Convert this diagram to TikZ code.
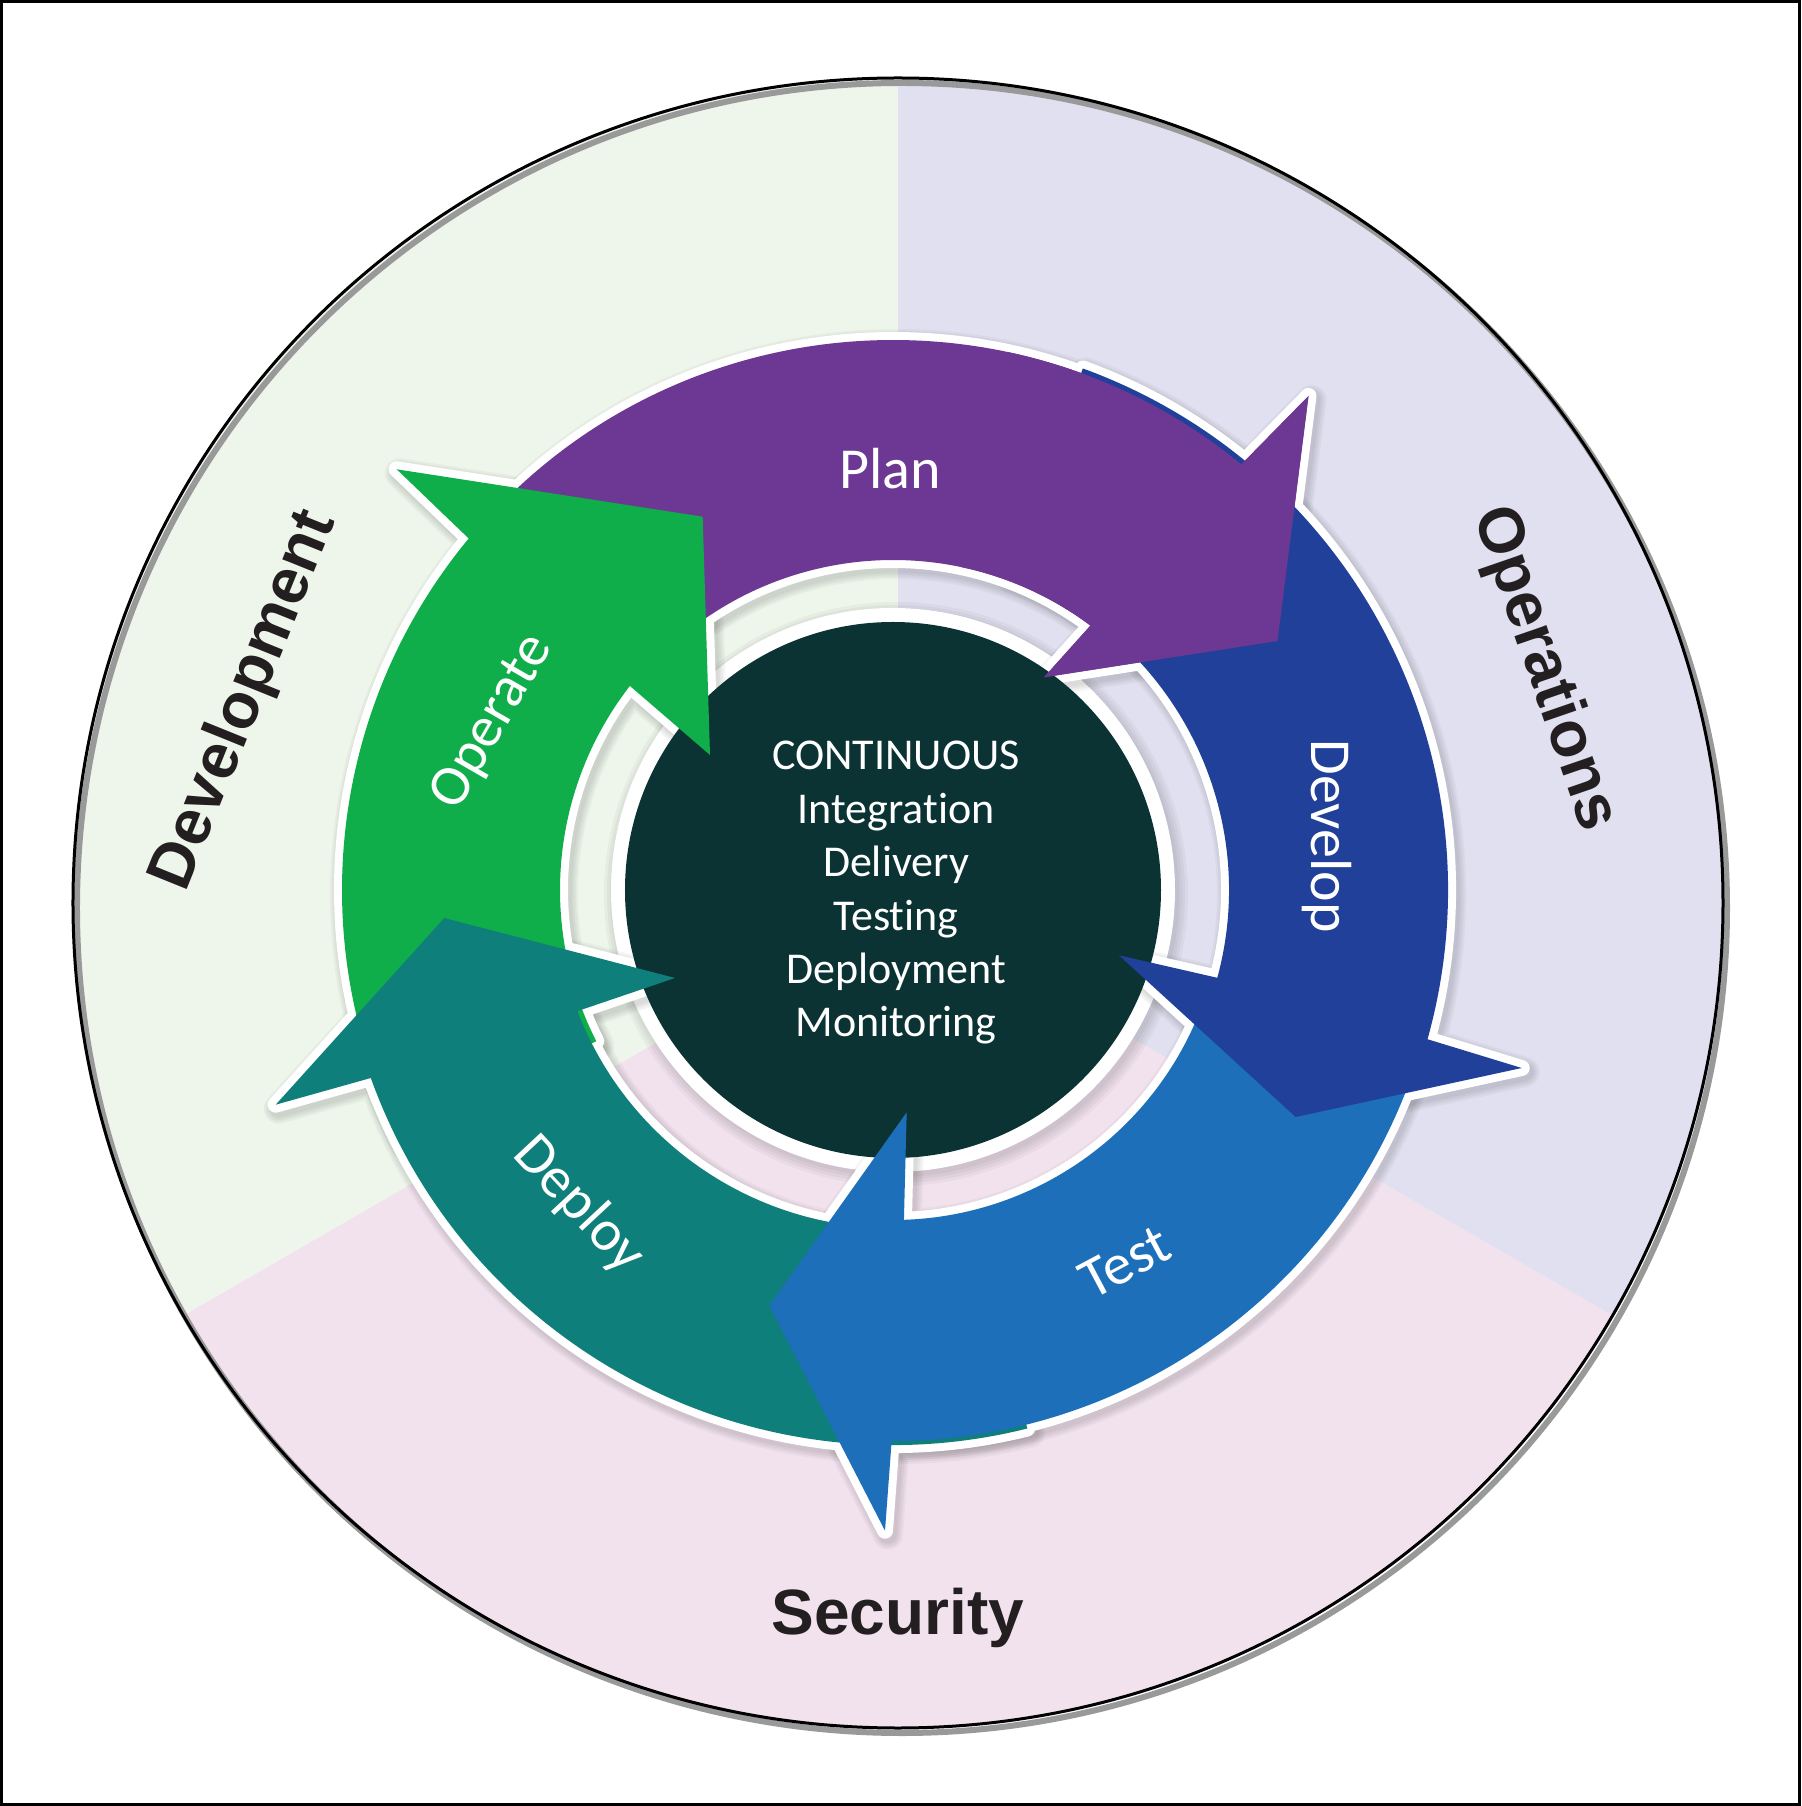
\documentclass[tikz,border=0pt]{standalone}
\usepackage{fontspec}
\setmainfont{Carlito}[Ligatures=NoCommon]
\newfontfamily\regionfont{Liberation Sans}
\definecolor{devbg}{HTML}{EEF6EC}
\definecolor{opsbg}{HTML}{E1E0F0}
\definecolor{secbg}{HTML}{F2E2EE}
\definecolor{planc}{HTML}{6D3893}
\definecolor{devc}{HTML}{21409A}
\definecolor{testc}{HTML}{1C6FB8}
\definecolor{deployc}{HTML}{0F7F7B}
\definecolor{operc}{HTML}{10AE4B}
\definecolor{corec}{HTML}{0C3333}
\definecolor{inkc}{HTML}{231F20}
\def\planpath{(139:550) arc[start angle=139,end angle=50.7,radius=550] -- (415.5,494) -- (384.5,249) -- (151,212.7) -- (53.25:330) arc[start angle=53.25,end angle=139,radius=330] -- cycle}
\def\devpath{(70:555) arc[start angle=70,end angle=-15.6,radius=555] -- (628.7,-178) -- (402.7,-227) -- (226,-65.3) -- (-15.15:336) arc[start angle=-15.15,end angle=70,radius=336] -- cycle}
\def\testpath{(-18:551) arc[start angle=-18,end angle=-90.14,radius=551] -- (-8,-640.7) -- (-123.7,-415.7) -- (13.7,-222.3) -- (-88.1:330) arc[start angle=-88.1,end angle=-18,radius=330] -- cycle}
\def\deploypath{(284:555) arc[start angle=284,end angle=199.8,radius=555] -- (-617.3,-214.7) -- (-448.7,-28) -- (-218,-88) -- (201:338) arc[start angle=201,end angle=284,radius=338] -- cycle}
\def\operpath{(207:551) arc[start angle=207,end angle=140.36,radius=551] -- (-496.3,420.7) -- (-190.3,373.3) -- (-183,135) -- (142.2:333) arc[start angle=142.2,end angle=207,radius=333] -- cycle}
\tikzset{
  blur/.style={draw=black, draw opacity=0.035, line join=round, shift={(3,-4)}},
  glowline/.style={draw=white, line width=16pt, line join=round},
  arrowlbl/.style={text=white, font=\fontsize{58}{70}\selectfont, inner sep=0pt},
  regionlbl/.style={text=inkc, font=\regionfont\bfseries\fontsize{64}{76}\selectfont, inner sep=0pt},
}
\begin{document}
\begin{tikzpicture}[x=1pt,y=1pt]
\useasboundingbox (-893,890) rectangle (908,-916);
\fill[white] (-893,890) rectangle (908,-916);
\coordinate (O) at (0,0);
\coordinate (BC) at (5,-13);
% sectors
\fill[devbg] (BC) -- ++(90:825) arc[start angle=90,end angle=210,radius=825] -- cycle;
\fill[secbg] (BC) -- ++(210:825) arc[start angle=210,end angle=330,radius=825] -- cycle;
\fill[opsbg] (BC) -- ++(-30:825) arc[start angle=-30,end angle=90,radius=825] -- cycle;
% outer circle
\draw[black!40, line width=6pt] ([shift={(4,-5)}]BC) circle[radius=825];
\draw[black, line width=3pt] (BC) circle[radius=825];
% core glow
\foreach \r in {292,289,286,283}{\fill[black, opacity=0.035] (3,-4) circle[radius=\r];}
\fill[white] (O) circle[radius=282];
% arrow shadows and glows
\foreach \p in {\planpath,\devpath,\testpath,\deploypath,\operpath}{
  \foreach \w in {30,26,22,18}{\draw[blur, line width=\w pt] \p;}
}
\foreach \p in {\planpath,\devpath,\testpath,\deploypath,\operpath}{
  \draw[glowline] \p;
}
% core
\fill[corec] (O) circle[radius=268];
% arrow fills
\fill[planc] \planpath;
\fill[operc] \operpath;
\fill[deployc] \deploypath;
\fill[testc] \testpath;
\fill[devc] \devpath;
\begin{scope}
  \clip (O) -- (78:900) -- (15:900) -- cycle;
  \fill[planc] \planpath;
\end{scope}
% arrow labels
\node[arrowlbl] (plan) at (-3,421) {Plan};
\node[arrowlbl, rotate=-90] (develop) at (434,54) {Develop};
\node[arrowlbl, rotate=28] (test) at (232,-372) {Test};
\node[arrowlbl, rotate=-47] (deploy) at (-314,-315) {Deploy};
\node[arrowlbl, rotate=60] (operate) at (-400,168) {Operate};
% core text
\node[text=white, align=center, font=\fontsize{44}{53.4}\selectfont, inner sep=0pt] (core) at (3,-3)
  {CONTINUOUS\\Integration\\Delivery\\Testing\\Deployment\\Monitoring};
% region labels
\node[regionlbl, rotate=68] (development) at (-648,189) {Development};
\node[regionlbl, rotate=-71] (operations) at (651,221) {Operations};
\node[regionlbl] (security) at (5,-728) {Security};
% frame
\draw[black, line width=3pt] (-891,888) rectangle (906,-914);
\end{tikzpicture}
\end{document}
